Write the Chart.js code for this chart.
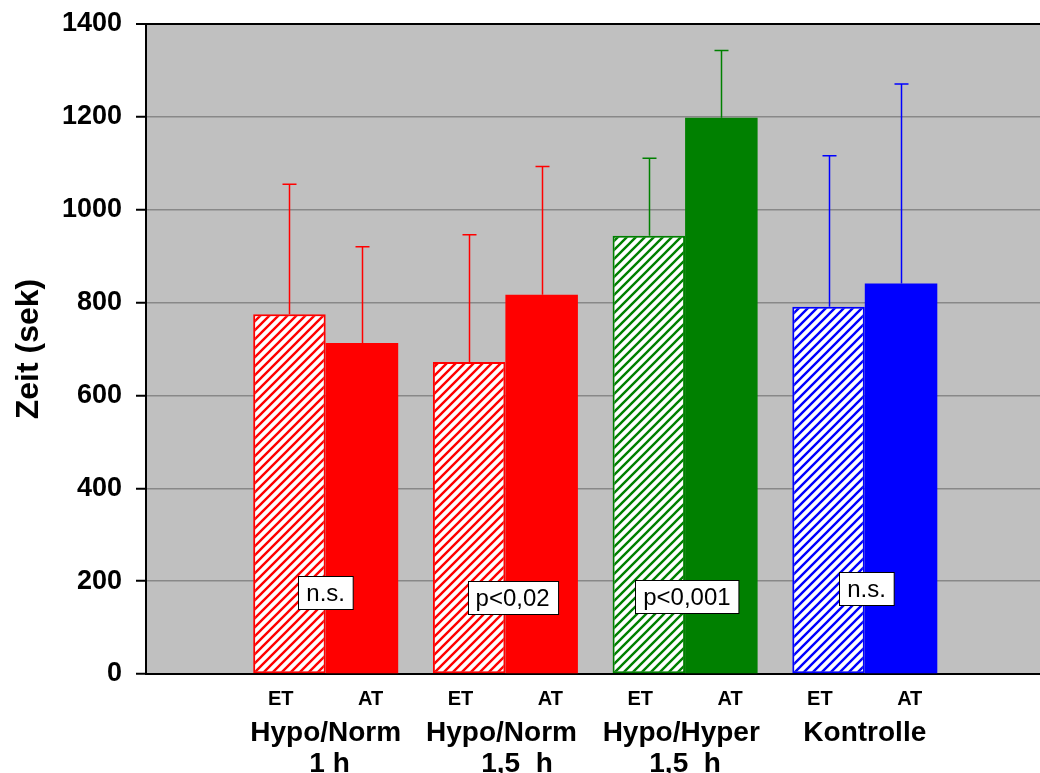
<!DOCTYPE html>
<html>
<head>
<meta charset="utf-8">
<script src="https://cdn.jsdelivr.net/npm/chart.js@4.4.1/dist/chart.umd.min.js"></script>
<style>
  html, body { margin: 0; padding: 0; background: #ffffff; }
  canvas { display: block; }
</style>
</head>
<body>
<canvas id="chart" width="1040" height="773"></canvas>
<script>
// Groups (two-line labels), per-group colours, series
const groups = [['Hypo/Norm', ' 1 h'], ['Hypo/Norm ', '   1,5  h'], ['Hypo/Hyper ', '1,5  h'], ['Kontrolle']];
const seriesNames = ['ET', 'AT'];
const groupColors = ['#FF0000', '#FF0000', '#008000', '#0000FF'];

// Mean times (s) and standard deviations
const etMeans = [775, 672, 944, 791];
const atMeans = [713, 817, 1198, 841];
const etSD = [280, 274, 167, 325];
const atSD = [207, 276, 145, 430];

// Significance notes and their anchor (group index, value)
const sigLabels = ['n.s.', 'p<0,02', 'p<0,001', 'n.s.'];
const sigAnchorX = [1.0, 2.04, 3.01, 4.01];
const sigAnchorY = [176, 164, 167, 185];

// Value axis
const yMin = 0, yMax = 1400, yStep = 200;
const yTitle = 'Zeit (sek)';

const FONT = "'Liberation Sans', Arial, Helvetica, sans-serif";

function hatch(color) {
  const s = 9;
  const c = document.createElement('canvas');
  c.width = s; c.height = s;
  const g = c.getContext('2d');
  g.fillStyle = '#ffffff';
  g.fillRect(0, 0, s, s);
  g.strokeStyle = color;
  g.lineWidth = 2.4;
  g.beginPath();
  g.moveTo(-1, s + 1); g.lineTo(s + 1, -1);
  g.moveTo(-2, 2); g.lineTo(2, -2);
  g.moveTo(s - 2, s + 2); g.lineTo(s + 2, s - 2);
  g.stroke();
  return g.createPattern(c, 'repeat');
}

const plotBackground = {
  id: 'plotBackground',
  beforeDraw(chart) {
    const { ctx, chartArea: a } = chart;
    ctx.save();
    ctx.fillStyle = '#C0C0C0';
    ctx.fillRect(a.left, a.top, a.right - a.left, a.bottom - a.top);
    ctx.restore();
  }
};

const errorBars = {
  id: 'errorBars',
  afterDatasetsDraw(chart) {
    const { ctx } = chart;
    const y = chart.scales.y;
    ctx.save();
    ctx.lineWidth = 1.5;
    chart.data.datasets.forEach((ds, di) => {
      const meta = chart.getDatasetMeta(di);
      meta.data.forEach((bar, i) => {
        const v = ds.data[i].y;
        const top = y.getPixelForValue(v + ds.sd[i]);
        const base = y.getPixelForValue(v);
        const x = Math.round(bar.x) + 0.5;
        ctx.strokeStyle = groupColors[i];
        ctx.beginPath();
        ctx.moveTo(x, base);
        ctx.lineTo(x, top);
        ctx.moveTo(x - 7, top);
        ctx.lineTo(x + 7, top);
        ctx.stroke();
      });
    });
    ctx.restore();
  }
};

const notes = {
  id: 'notes',
  afterDatasetsDraw(chart) {
    const { ctx } = chart;
    const xs = chart.scales.x, ys = chart.scales.y;
    ctx.save();
    ctx.font = '24px ' + FONT;
    ctx.textAlign = 'center';
    ctx.textBaseline = 'alphabetic';
    sigLabels.forEach((t, i) => {
      const cx = xs.getPixelForValue(sigAnchorX[i]);
      const cy = ys.getPixelForValue(sigAnchorY[i]);
      const w = ctx.measureText(t).width + 16;
      const h = 33;
      const l = Math.round(cx - w / 2) + 0.5, tp = Math.round(cy - h / 2) + 0.5;
      ctx.fillStyle = '#ffffff';
      ctx.fillRect(l, tp, w, h);
      ctx.strokeStyle = '#000000';
      ctx.lineWidth = 1;
      ctx.strokeRect(l, tp, w, h);
      ctx.fillStyle = '#000000';
      ctx.fillText(t, cx, cy + 8.5);
    });
    ctx.restore();
  }
};

const axisLabels = {
  id: 'axisLabels',
  afterDraw(chart) {
    const { ctx } = chart;
    const xs = chart.scales.x;
    ctx.save();
    ctx.fillStyle = '#000000';
    ctx.textAlign = 'center';
    ctx.textBaseline = 'alphabetic';
    groups.forEach((lines, i) => {
      const k = i + 1;
      ctx.font = 'bold 20px ' + FONT;
      ctx.fillText(seriesNames[0], xs.getPixelForValue(k - 0.25), 705);
      ctx.fillText(seriesNames[1], xs.getPixelForValue(k + 0.25), 705);
      ctx.font = 'bold 28px ' + FONT;
      lines.forEach((line, j) => {
        ctx.fillText(line, xs.getPixelForValue(k), 741 + j * 31);
      });
    });
    ctx.restore();
  }
};

const ctx = document.getElementById('chart').getContext('2d');
new Chart(ctx, {
  type: 'bar',
  data: {
    datasets: [
      {
        label: seriesNames[0],
        data: etMeans.map((v, i) => ({ x: i + 1, y: v })),
        sd: etSD,
        backgroundColor: groupColors.map(hatch),
        borderColor: groupColors,
        borderWidth: 2,
        borderSkipped: false
      },
      {
        label: seriesNames[1],
        data: atMeans.map((v, i) => ({ x: i + 1, y: v })),
        sd: atSD,
        backgroundColor: groupColors,
        borderWidth: 0
      }
    ]
  },
  options: {
    responsive: false,
    animation: false,
    devicePixelRatio: 1,
    categoryPercentage: 0.807,
    barPercentage: 1,
    layout: { padding: { top: 24, right: 0, bottom: 0, left: 0 } },
    plugins: {
      legend: { display: false },
      tooltip: { enabled: false }
    },
    scales: {
      x: {
        type: 'linear',
        offset: false,
        min: 0,
        max: 4.975,
        ticks: { display: false, stepSize: 1, includeBounds: false },
        grid: { display: false, drawTicks: false, offset: false },
        border: { display: true, color: '#000000', width: 2 },
        afterFit(scale) { scale.height = 99; }
      },
      y: {
        min: yMin,
        max: yMax,
        ticks: {
          stepSize: yStep,
          color: '#000000',
          padding: 14,
          font: { family: FONT, size: 27, weight: 'bold' },
          callback: v => String(v)
        },
        grid: {
          color: c => (c.tick && (c.tick.value === yMax || c.tick.value === yMin)) ? '#000000' : '#888888',
          lineWidth: c => (c.tick && c.tick.value === yMax) ? 2 : 1.5,
          drawTicks: true,
          tickLength: 10,
          tickColor: '#000000',
          tickWidth: 2
        },
        border: { display: true, color: '#000000', width: 2 },
        title: {
          display: true,
          text: yTitle,
          color: '#000000',
          font: { family: FONT, size: 32, weight: 'bold' },
          padding: { top: 10, bottom: 0 }
        },
        afterFit(scale) {
          scale.width = 146;
          scale.paddingTop = 0;
          scale.paddingBottom = 0;
        }
      }
    }
  },
  plugins: [plotBackground, errorBars, notes, axisLabels]
});
</script>
</body>
</html>
